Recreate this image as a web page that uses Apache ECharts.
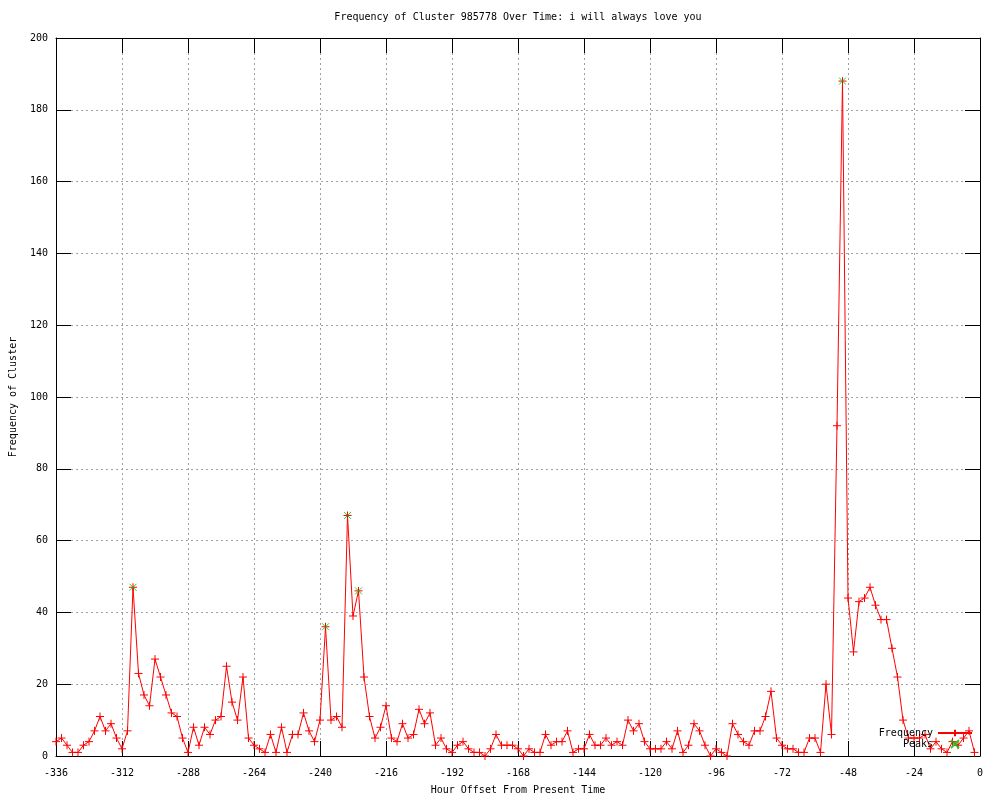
<!DOCTYPE html>
<html>
<head>
<meta charset="utf-8">
<script src="https://cdn.jsdelivr.net/npm/echarts@6/dist/echarts.min.js"></script>
<style>html,body{margin:0;padding:0;background:#fff}#c{width:1000px;height:800px}</style>
</head>
<body>
<div id="c"></div>
<script>
const titleText = 'Frequency of Cluster 985778 Over Time: i will always love you';
const xName = 'Hour Offset From Present Time';
const yName = 'Frequency of Cluster';

const hours = [
  -336,-334,-332,-330,-328,-326,-324,-322,-320,-318,-316,-314,
  -312,-310,-308,-306,-304,-302,-300,-298,-296,-294,-292,-290,
  -288,-286,-284,-282,-280,-278,-276,-274,-272,-270,-268,-266,
  -264,-262,-260,-258,-256,-254,-252,-250,-248,-246,-244,-242,
  -240,-238,-236,-234,-232,-230,-228,-226,-224,-222,-220,-218,
  -216,-214,-212,-210,-208,-206,-204,-202,-200,-198,-196,-194,
  -192,-190,-188,-186,-184,-182,-180,-178,-176,-174,-172,-170,
  -168,-166,-164,-162,-160,-158,-156,-154,-152,-150,-148,-146,
  -144,-142,-140,-138,-136,-134,-132,-130,-128,-126,-124,-122,
  -120,-118,-116,-114,-112,-110,-108,-106,-104,-102,-100,-98,
  -96,-94,-92,-90,-88,-86,-84,-82,-80,-78,-76,-74,
  -72,-70,-68,-66,-64,-62,-60,-58,-56,-54,-52,-50,
  -48,-46,-44,-42,-40,-38,-36,-34,-32,-30,-28,-26,
  -24,-22,-20,-18,-16,-14,-12,-10,-8,-6,-4,-2
];

const frequency = [
  4,5,3,1,1,3,4,7,11,7,9,5,
  2,7,47,23,17,14,27,22,17,12,11,5,
  1,8,3,8,6,10,11,25,15,10,22,5,
  3,2,1,6,1,8,1,6,6,12,7,4,
  10,36,10,11,8,67,39,46,22,11,5,8,
  14,5,4,9,5,6,13,9,12,3,5,2,
  1,3,4,2,1,1,0,2,6,3,3,3,
  2,0,2,1,1,6,3,4,4,7,1,2,
  2,6,3,3,5,3,4,3,10,7,9,4,
  2,2,2,4,2,7,1,3,9,7,3,0,
  2,1,0,9,6,4,3,7,7,11,18,5,
  3,2,2,1,1,5,5,1,20,6,92,188,
  44,29,43,44,47,42,38,38,30,22,10,5,
  5,5,6,2,4,2,1,4,3,5,7,1
];

const peakHours = [-308, -238, -230, -226, -50];
const peakValues = [47, 36, 67, 46, 188];

const FONT = 'DejaVu Sans Mono';
const RED = '#ff0000';
const GREEN = '#00c000';

const freqData = hours.map((h, i) => [h, frequency[i]]);
const peakData = peakHours.map((h, i) => [h, peakValues[i]]);

const chart = echarts.init(document.getElementById('c'), null, {renderer: 'canvas'});

const gridLine = {show: true, lineStyle: {color: '#a0a0a0', width: 1, type: [2, 3]}};
const tickIn = {show: true, inside: true, length: 15, lineStyle: {color: '#000', width: 1}};
const axLine = {show: true, onZero: false, lineStyle: {color: '#000', width: 1}};
const PLUS = 'path://M0,5L10,5M5,0L5,10';
const CROSS = 'path://M0,0L10,10M10,0L0,10';

chart.setOption({
  animation: false,
  backgroundColor: '#ffffff',
  textStyle: {fontFamily: FONT},
  graphic: [{
    type: 'text', x: 518, y: 12,
    style: {text: titleText, font: '10px "DejaVu Sans Mono"', fill: '#000', textAlign: 'center', textVerticalAlign: 'top'}
  }],
  grid: {left: 56, right: 20, top: 38, bottom: 40, containLabel: false},
  legend: {
    orient: 'vertical', right: 22, top: 723, align: 'right',
    itemWidth: 34, itemHeight: 8, itemGap: 1,
    textStyle: {fontFamily: FONT, fontSize: 10, color: '#000'},
    data: [
      {name: 'Frequency'},
      {name: 'Peaks', icon: CROSS}
    ]
  },
  xAxis: [{
    type: 'value', min: -336, max: 0, interval: 24, position: 'bottom',
    name: xName, nameLocation: 'middle', nameGap: 29,
    nameTextStyle: {fontFamily: FONT, fontSize: 10, color: '#000'},
    axisLine: axLine, axisTick: tickIn, splitLine: gridLine,
    axisLabel: {fontFamily: FONT, fontSize: 10, color: '#000', margin: 12}
  }, {
    type: 'value', min: -336, max: 0, interval: 24, position: 'top',
    axisLine: axLine, axisTick: tickIn, splitLine: {show: false}, axisLabel: {show: false}
  }],
  yAxis: [{
    type: 'value', min: 0, max: 200, interval: 20, position: 'left',
    name: yName, nameLocation: 'middle', nameGap: 38, nameRotate: 90,
    nameTextStyle: {fontFamily: FONT, fontSize: 10, color: '#000'},
    axisLine: axLine, axisTick: tickIn, splitLine: gridLine,
    axisLabel: {fontFamily: FONT, fontSize: 10, color: '#000', margin: 8}
  }, {
    type: 'value', min: 0, max: 200, interval: 20, position: 'right',
    axisLine: axLine, axisTick: tickIn, splitLine: {show: false}, axisLabel: {show: false}
  }],
  series: [{
    name: 'Frequency', type: 'line', data: freqData,
    xAxisIndex: 0, yAxisIndex: 0,
    showAllSymbol: true,
    symbol: PLUS, symbolSize: 8,
    lineStyle: {color: RED, width: 1},
    itemStyle: {color: RED, borderColor: RED, borderWidth: 1},
    z: 3
  }, {
    name: 'Peaks', type: 'scatter', data: peakData,
    xAxisIndex: 0, yAxisIndex: 0,
    symbol: CROSS, symbolSize: 7,
    itemStyle: {color: GREEN, borderColor: GREEN, borderWidth: 1},
    z: 4
  }]
});
</script>
</body>
</html>
